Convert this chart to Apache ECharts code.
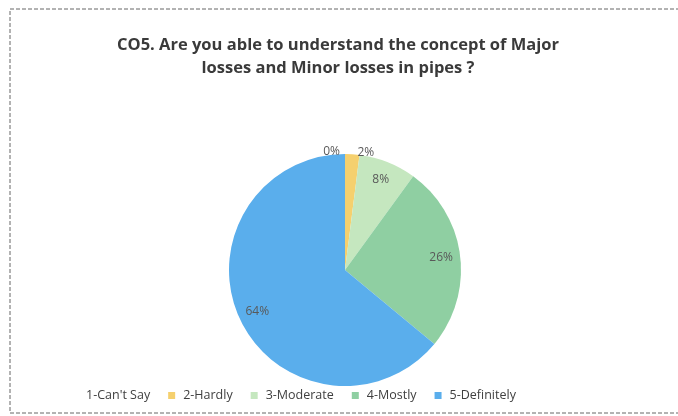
<!DOCTYPE html>
<html><head><meta charset="utf-8">
<script src="https://cdn.jsdelivr.net/npm/echarts@6/dist/echarts.min.js"></script>
<style>html,body{margin:0;padding:0;background:#fff}#c{width:678px;height:416px}</style>
</head><body><div id="c"></div>
<script>
const categories = ["1-Can't Say", "2-Hardly", "3-Moderate", "4-Mostly", "5-Definitely"];
const values = [0, 2, 8, 26, 64];
const colors = ['#ffffff', '#f5d06e', '#c5e7bf', '#8fcfa2', '#5aaeec'];
const titleText = 'CO5. Are you able to understand the concept of Major\nlosses and Minor losses in pipes ?';

const chart = echarts.init(document.getElementById('c'));
const center = [345, 270];
const R = 116;
const mainData = categories.map((n, i) => ({
  name: n, value: values[i], itemStyle: {color: colors[i]},
  label: i < 2 ? {show: true, position: 'outside', align: i === 0 ? 'right' : 'center'} : {show: false}
}));
const labelData = categories.map((n, i) => ({
  name: n, value: values[i],
  label: {show: i >= 2}
}));
chart.setOption({
  animation: false,
  title: {text: titleText, left: 333, top: 29, textAlign: 'center',
    textStyle: {fontFamily: 'Open Sans', fontSize: 16.5, fontWeight: 'bold', color: '#3a3a3a', lineHeight: 23}},
  legend: {top: 384, left: 66, itemWidth: 7, itemHeight: 7, itemGap: 18, icon: 'rect',
    data: categories, textStyle: {fontFamily: 'Open Sans', fontSize: 12.5, color: '#404040', padding: [0, 0, 0, 3]}},
  graphic: [{type: 'rect', shape: {x: 10, y: 9, width: 700, height: 404}, silent: true,
    style: {fill: 'none', stroke: '#666', lineWidth: 1, lineDash: [4, 2]}}],
  series: [{
    type: 'pie', radius: R, center: center, startAngle: 90, clockwise: true,
    data: mainData, silent: true,
    itemStyle: {borderWidth: 0},
    label: {fontFamily: 'Open Sans', fontSize: 12, color: '#595959', formatter: '{d}%'},
    labelLine: {show: false, length: 2, length2: 0}
  }, {
    type: 'pie', radius: [0, R * 1.62], center: center, startAngle: 90, clockwise: true,
    data: labelData, silent: true, legendHoverLink: false,
    itemStyle: {color: 'rgba(0,0,0,0)'},
    label: {position: 'inside', fontFamily: 'Open Sans', fontSize: 12, color: '#595959', formatter: '{d}%'},
    labelLine: {show: false}
  }]
});
</script></body></html>
